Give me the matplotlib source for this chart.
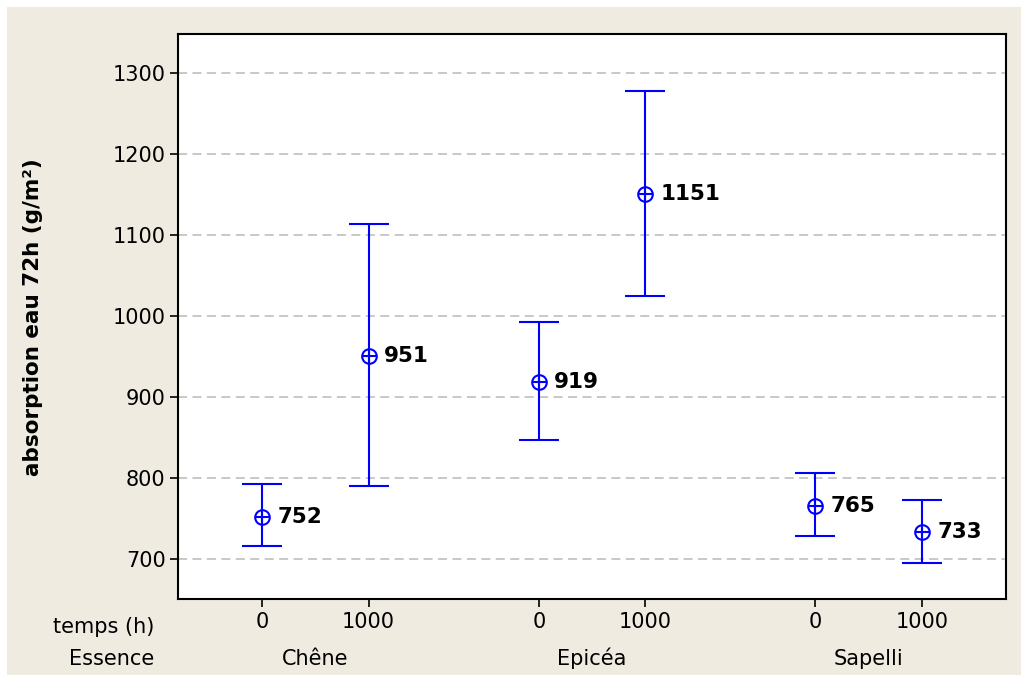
import matplotlib
matplotlib.use("Agg")
import matplotlib.pyplot as plt
from matplotlib.patches import Rectangle
import matplotlib.transforms as mtransforms

# Data
essences = ["Chêne", "Epicéa", "Sapelli"]
temps = ["0", "1000"]
means = [752, 951, 919, 1151, 765, 733]
lower = [716, 790, 847, 1025, 728, 695]
upper = [792, 1114, 992, 1278, 806, 773]
yticks = [700, 800, 900, 1000, 1100, 1200, 1300]

plt.rcParams['font.family'] = ['DejaVu Sans']
FS = 15
FSB = 15.5
blue = "#0000FF"
beige = "#EFEBE1"

fig = plt.figure(figsize=(10.21, 6.75), dpi=100, facecolor="white")
fig.patches.append(Rectangle((7/1021, 0), 1 - 7/1021, 1 - 7/675, transform=fig.transFigure,
                             facecolor=beige, edgecolor="none", zorder=-10))

ax = fig.add_axes([178/1021, (675-599)/675, (1006-178)/1021, (599-34)/675])
ax.set_facecolor("white")

# positions: within group step 1, group gap 1.6
xpos = []
for g in range(len(essences)):
    for t in range(len(temps)):
        xpos.append(g * 2.6 + t)

yerr_lo = [m - l for m, l in zip(means, lower)]
yerr_hi = [u - m for m, u in zip(means, upper)]
ax.errorbar(xpos, means, yerr=[yerr_lo, yerr_hi], fmt="none", ecolor=blue,
            elinewidth=1.5, capsize=14.5, capthick=1.5, zorder=3)
ax.plot(xpos, means, linestyle="none", marker="o", markersize=10.5, markerfacecolor="none",
        markeredgecolor=blue, markeredgewidth=1.5, zorder=4)
ax.plot(xpos, means, linestyle="none", marker="+", markersize=10.5,
        markeredgecolor=blue, markeredgewidth=1.5, zorder=4)

for x, m in zip(xpos, means):
    ax.annotate(str(m), (x, m), xytext=(11, 0), textcoords="offset points",
                ha="left", va="center", fontsize=FSB, fontweight="bold", color="black")

ax.set_xlim(-0.79, 6.99)
ax.set_ylim(650.5, 1348)
ax.set_yticks(yticks)
ax.set_yticklabels([str(v) for v in yticks], fontsize=FS)
ax.set_xticks(xpos)
ax.set_xticklabels(temps * len(essences), fontsize=FS)
ax.tick_params(axis="both", direction="out", length=6, width=1.2, pad=3, colors="black")
ax.yaxis.grid(True, linestyle=(0, (5, 3)), color="#C4C4C4", linewidth=1.3)
ax.set_axisbelow(True)
for s in ax.spines.values():
    s.set_linewidth(1.5)
    s.set_color("black")

# Second row: group names
trans = mtransforms.blended_transform_factory(ax.transData, fig.transFigure)
for g, name in enumerate(essences):
    cx = g * 2.6 + 0.5
    ax.text(cx, (675-665)/675, name, transform=trans, ha="center", va="baseline", fontsize=FS)

fig.text(154/1021, (675-633)/675, "temps (h)", ha="right", va="baseline", fontsize=FS)
fig.text(154/1021, (675-665)/675, "Essence", ha="right", va="baseline", fontsize=FS)

fig.text(33/1021, (675-317)/675, "absorption eau 72h (g/m²)", rotation=90, ha="center",
         va="center", fontsize=FSB, fontweight="bold")

fig.savefig("out.png", dpi=100, facecolor=fig.get_facecolor())
